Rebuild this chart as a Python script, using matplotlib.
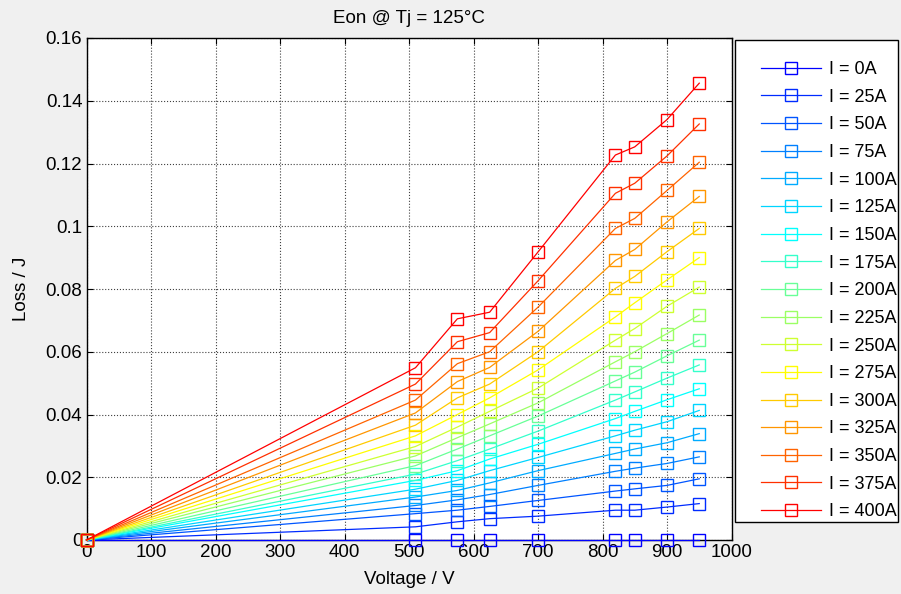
import numpy as np
import matplotlib.pyplot as plt
from matplotlib.colors import LinearSegmentedColormap
from matplotlib.patches import Rectangle

# Data
currents = [0, 25, 50, 75, 100, 125, 150, 175, 200, 225, 250, 275, 300, 325, 350, 375, 400]
voltages = [0, 510, 575, 625, 700, 820, 850, 900, 950]

# Loss (J) per voltage column, one value per current (0A .. 400A)
loss_0v = [0.0] * 17
loss_510v = [0, 0.0042, 0.0084, 0.0110, 0.0137, 0.0162, 0.0190, 0.0210, 0.0237,
             0.0268, 0.0298, 0.0332, 0.0366, 0.0405, 0.0446, 0.0497, 0.0549]
loss_575v = [0, 0.0058, 0.0095, 0.0128, 0.0158, 0.0190, 0.0221, 0.0253, 0.0290,
             0.0326, 0.0360, 0.0400, 0.0453, 0.0505, 0.0562, 0.0632, 0.0705]
loss_625v = [0, 0.0068, 0.0107, 0.0145, 0.0182, 0.0221, 0.0258, 0.0290, 0.0332,
             0.0370, 0.0410, 0.0453, 0.0497, 0.0550, 0.0600, 0.0661, 0.0726]
loss_700v = [0, 0.0076, 0.0126, 0.0174, 0.0221, 0.0263, 0.0305, 0.0347, 0.0395,
             0.0437, 0.0484, 0.0542, 0.0600, 0.0665, 0.0742, 0.0826, 0.0918]
loss_820v = [0, 0.0095, 0.0156, 0.0219, 0.0276, 0.0332, 0.0387, 0.0446, 0.0507,
             0.0568, 0.0637, 0.0711, 0.0802, 0.0891, 0.0993, 0.1105, 0.1227]
loss_850v = [0, 0.0095, 0.0163, 0.0229, 0.0290, 0.0350, 0.0410, 0.0472, 0.0535,
             0.0600, 0.0674, 0.0756, 0.0840, 0.0926, 0.1025, 0.1137, 0.1253]
loss_900v = [0, 0.0105, 0.0174, 0.0244, 0.0310, 0.0377, 0.0447, 0.0516, 0.0587,
             0.0658, 0.0745, 0.0829, 0.0919, 0.1014, 0.1114, 0.1224, 0.1340]
loss_950v = [0, 0.0116, 0.0195, 0.0265, 0.0339, 0.0413, 0.0482, 0.0558, 0.0637,
             0.0717, 0.0806, 0.0900, 0.0993, 0.1095, 0.1204, 0.1326, 0.1456]

loss = np.array([loss_0v, loss_510v, loss_575v, loss_625v, loss_700v,
                 loss_820v, loss_850v, loss_900v, loss_950v]).T

plt.rcParams['font.family'] = ['Liberation Sans', 'DejaVu Sans']
FS = 13.5

# blue -> cyan -> yellow -> red, like the original colour order
cmap = LinearSegmentedColormap.from_list(
    "bcyr", [(0, (0, 0, 1)), (6/16, (0, 1, 1)), (11/16, (1, 1, 0)), (1, (1, 0, 0))])

W, H = 901, 594
fig = plt.figure(figsize=(W/100, H/100), dpi=100, facecolor="#f0f0f0")
ax = fig.add_axes([86.5/W, 54/H, 645/W, 502/H])

for i, cur in enumerate(currents):
    ax.plot(voltages, loss[i], color=cmap(i / 16), lw=0.9, marker="s",
            markersize=9, markerfacecolor="none", markeredgewidth=1.0,
            label="I = %dA" % cur, clip_on=False, zorder=3)

ax.set_xlim(0, 1000)
ax.set_ylim(0, 0.16)
ax.set_xticks(np.arange(0, 1001, 100))
ax.set_yticks(np.arange(0, 0.161, 0.02))
ax.set_yticklabels(["0", "0.02", "0.04", "0.06", "0.08", "0.1", "0.12", "0.14", "0.16"])
ax.grid(True, linestyle=":", color="#404040", linewidth=0.8)
ax.tick_params(direction="in", top=True, right=True, length=4, labelsize=FS, pad=3)
for s in ax.spines.values():
    s.set_linewidth(1.0)

ax.set_title("Eon @ Tj = 125°C", fontsize=FS, pad=11)
ax.set_xlabel("Voltage / V", fontsize=FS, labelpad=7)
ax.set_ylabel("Loss / J", fontsize=FS, labelpad=11)

# legend box drawn separately (white, black border) outside the axes
fig.patches.append(Rectangle((735/W, 1 - 522/H), (898 - 735)/W, (522 - 40)/H,
                             transform=fig.transFigure, facecolor="white",
                             edgecolor="black", linewidth=1.0, zorder=1))
leg = fig.legend(loc="upper left", bbox_to_anchor=(761/W, 1 - 61/H),
                 fontsize=13, frameon=False, handlelength=3.35,
                 handletextpad=0.42, labelspacing=0.59,
                 borderpad=0, borderaxespad=0)

plt.savefig("out.png", dpi=100, facecolor=fig.get_facecolor())
